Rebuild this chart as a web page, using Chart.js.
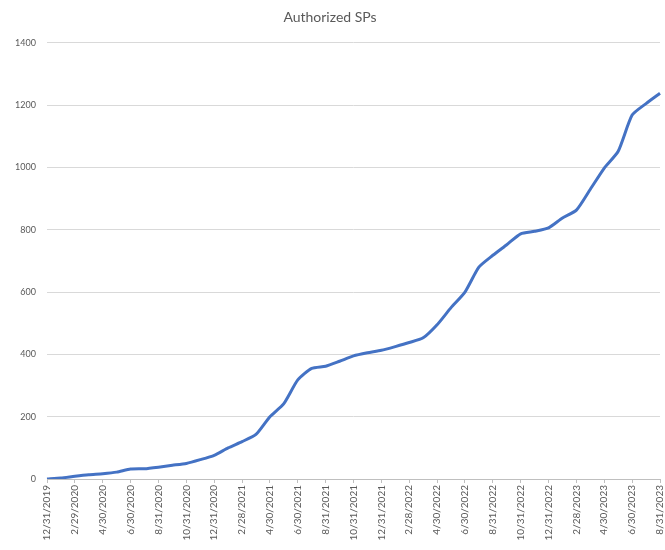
<!DOCTYPE html>
<html>
<head>
<meta charset="utf-8">
<script src="https://cdn.jsdelivr.net/npm/chart.js@4.4.0/dist/chart.umd.min.js"></script>
<style>
  html, body { margin: 0; padding: 0; background: #fff; }
  #wrap { width: 665px; height: 550px; }
</style>
</head>
<body>
<div id="wrap"><canvas id="myChart"></canvas></div>
<script>
// month-end dates, monthly
const months = [
    '12/31/2019', '1/31/2020', '2/29/2020', '3/31/2020', '4/30/2020', '5/31/2020',
    '6/30/2020', '7/31/2020', '8/31/2020', '9/30/2020', '10/31/2020', '11/30/2020',
    '12/31/2020', '1/31/2021', '2/28/2021', '3/31/2021', '4/30/2021', '5/31/2021',
    '6/30/2021', '7/31/2021', '8/31/2021', '9/30/2021', '10/31/2021', '11/30/2021',
    '12/31/2021', '1/31/2022', '2/28/2022', '3/31/2022', '4/30/2022', '5/31/2022',
    '6/30/2022', '7/31/2022', '8/31/2022', '9/30/2022', '10/31/2022', '11/30/2022',
    '12/31/2022', '1/31/2023', '2/28/2023', '3/31/2023', '4/30/2023', '5/31/2023',
    '6/30/2023', '7/31/2023', '8/31/2023'
]
const authorizedSPs = [
    0, 3, 9, 14, 17, 22,
    32, 33, 38, 44, 50, 62,
    76, 100, 120, 143, 200, 242,
    318, 355, 362, 378, 395, 405,
    413, 425, 438, 453, 495, 550,
    600, 680, 718, 752, 787, 795,
    806, 838, 863, 930, 998, 1052,
    1168, 1205, 1238
]
const yTicks = [0, 200, 400, 600, 800, 1000, 1200, 1400]

const labelGray = '#595959'
const gridGray = '#d9d9d9'

const data = {
    labels: months,
    datasets: [
        {
            label: 'Authorized SPs',
            data: authorizedSPs,
            borderColor: '#4472C4',
            backgroundColor: '#4472C4',
            borderWidth: 3,
            pointRadius: 0,
            tension: 0.2,
            fill: false,
        },
    ]
}

const config = {
    type: 'line',
    data,
    options: {
        responsive: true,
        maintainAspectRatio: false,
        animation: false,
        layout: {
            padding: { left: 0, right: 5, top: 0, bottom: 0 }
        },
        plugins: {
            legend: { display: false },
            tooltip: { enabled: false },
            title: {
                display: true,
                text: 'Authorized SPs',
                color: labelGray,
                font: { family: 'Lato', size: 14, weight: 'normal' },
                padding: { top: 9, bottom: 17 },
            },
        },
        scales: {
            x: {
                type: 'category',
                offset: false,
                afterFit: scale => {
                    scale.height = 71
                    scale.paddingRight = 0
                },
                grid: {
                    drawOnChartArea: false,
                    tickLength: 4,
                    color: ctx => (ctx.index % 2 === 0 ? '#bfbfbf' : 'rgba(0,0,0,0)'),
                },
                border: { color: '#bfbfbf' },
                ticks: {
                    autoSkip: false,
                    maxRotation: 90,
                    minRotation: 90,
                    padding: 2,
                    color: labelGray,
                    font: { family: 'Lato', size: 10 },
                    callback: (val, i) => (i % 2 === 0 ? months[i] : ''),
                },
            },
            y: {
                min: 0,
                max: 1400,
                afterFit: scale => { scale.width = 47 },
                afterBuildTicks: scale => {
                    scale.ticks = yTicks.map(v => ({ value: v }))
                },
                grid: {
                    color: gridGray,
                    lineWidth: 1,
                    drawTicks: false,
                },
                border: { display: false },
                ticks: {
                    padding: 11,
                    color: labelGray,
                    font: { family: 'Lato', size: 9 },
                    callback: v => String(v),
                },
            },
        },
    }
}

const ctx = document.getElementById('myChart')
const myChart = new Chart(ctx, config)
</script>
</body>
</html>
